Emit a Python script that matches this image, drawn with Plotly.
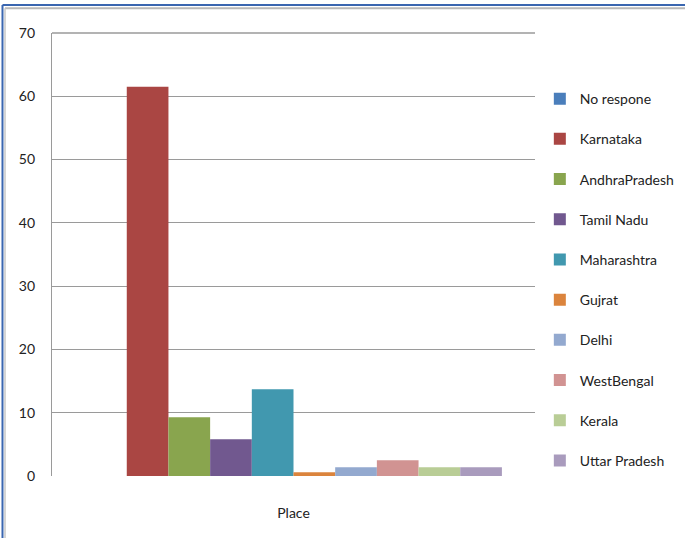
import plotly.graph_objects as go

# Share of respondents by home state
category = ["Place"]
states = ["No respone", "Karnataka", "AndhraPradesh", "Tamil Nadu", "Maharashtra",
          "Gujrat", "Delhi", "WestBengal", "Kerala", "Uttar Pradesh"]
values = [0, 61.5, 9.3, 5.8, 13.7, 0.6, 1.4, 2.5, 1.4, 1.4]
colors = ["#4A7EBB", "#AA4643", "#89A54E", "#71588F", "#4198AF",
          "#DB843D", "#93A9CF", "#D19392", "#B9CD96", "#A99BBD"]
y_ticks = [0, 10, 20, 30, 40, 50, 60, 70]

FONT = "Lato, Liberation Sans, sans-serif"

fig = go.Figure()
for name, val, col in zip(states, values, colors):
    fig.add_trace(go.Bar(
        x=category, y=[val], name=name, legendgroup=name,
        marker=dict(color=col, line=dict(width=0)),
    ))

fig.update_layout(
    width=685, height=538,
    margin=dict(l=52, r=150, t=33, b=62, autoexpand=False),
    paper_bgcolor="white", plot_bgcolor="white",
    barmode="group", bargap=0.137, bargroupgap=0,
    font=dict(family=FONT, size=13, color="#222222"),
    showlegend=True,
    legend=dict(
        x=1.01, y=0.887, xanchor="left", yanchor="top",
        font=dict(family=FONT, size=14, color="#222222"),
        tracegroupgap=19, itemwidth=30, bgcolor="rgba(0,0,0,0)",
    ),
    xaxis=dict(
        showgrid=False, showline=False, zeroline=False, ticks="",
        tickfont=dict(family=FONT, size=14, color="#222222"),
        ticklabelstandoff=27,
    ),
    yaxis=dict(
        range=[0, 70], tickvals=y_ticks, showgrid=True,
        gridcolor="#9a9a9a", gridwidth=1.3,
        showline=True, linecolor="#9a9a9a", linewidth=1.3,
        zeroline=False, ticks="", ticklabelstandoff=13,
        tickfont=dict(family=FONT, size=14, color="#222222"),
    ),
    shapes=[
        # window frame along the top and left edges
        dict(type="line", xref="paper", yref="paper", x0=-0.1025, x1=1.32,
             y0=1.063, y1=1.063, line=dict(color="#3A66B0", width=2)),
        dict(type="line", xref="paper", yref="paper", x0=-0.0973, x1=1.32,
             y0=1.056, y1=1.056, line=dict(color="#B8B8B8", width=2)),
        dict(type="line", xref="paper", yref="paper", x0=-0.1025, x1=-0.1025,
             y0=-0.2, y1=1.063, line=dict(color="#3A66B0", width=2)),
        dict(type="line", xref="paper", yref="paper", x0=-0.0973, x1=-0.0973,
             y0=-0.2, y1=1.056, line=dict(color="#C8C8C8", width=1.5)),
        # top border of plot area at 70
        dict(type="line", xref="paper", yref="paper", x0=0, x1=1,
             y0=1, y1=1, line=dict(color="#9a9a9a", width=1.3)),
    ],
)

fig.write_html("out.html")
